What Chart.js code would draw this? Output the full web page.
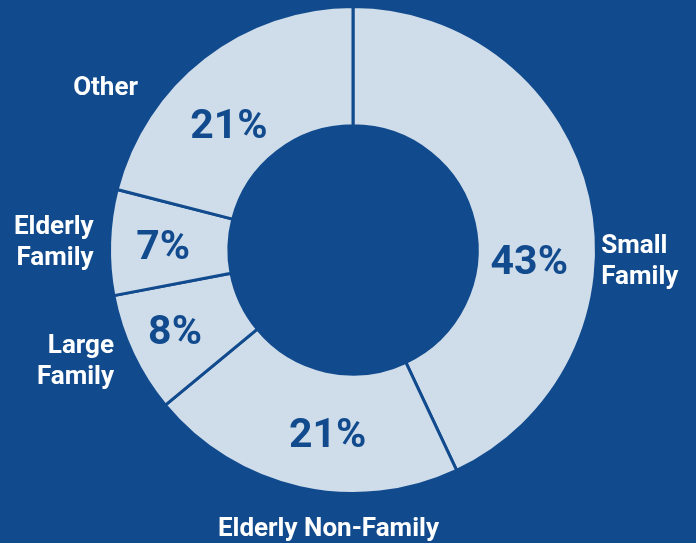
<!DOCTYPE html>
<html>
<head>
<meta charset="utf-8">
<script src="https://cdn.jsdelivr.net/npm/chart.js@4.4.1/dist/chart.umd.min.js"></script>
<style>
  html, body { margin: 0; padding: 0; background: #114B8E; }
  #wrap { width: 696px; height: 543px; position: relative; }
</style>
</head>
<body>
<div id="wrap"><canvas id="cnv"></canvas></div>
<script>
// ---- data ----
const categories = ['Small\nFamily', 'Elderly Non-Family', 'Large\nFamily', 'Elderly\nFamily', 'Other'];
const shares     = [43, 21, 8, 7, 21];

// ---- label placement (fraction along slice, ring depth / gap in px) ----
const pctAlong   = [0.607, 0.437, 0.52, 0.47, 0.405];
const pctDepth   = [0.44, 0.52, 0.60, 0.55, 0.43];
const catAlong   = [0.598, 0.40, 0.51, 0.50, 0.30];
const catGap     = [5, 36, 20, 16, 26];
const catAlign   = ['left', 'center', 'right', 'right', 'right'];

const BG    = '#114B8E';
const SLICE = '#CFDCE9';

const labelPlugin = {
  id: 'sliceLabels',
  afterDatasetsDraw(chart) {
    const ctx = chart.ctx;
    const arcs = chart.getDatasetMeta(0).data;
    ctx.save();
    arcs.forEach((arc, i) => {
      const { x, y, startAngle, endAngle, innerRadius, outerRadius } = arc.getProps(
        ['x', 'y', 'startAngle', 'endAngle', 'innerRadius', 'outerRadius'], true);

      // percentage inside the ring
      let a = startAngle + (endAngle - startAngle) * pctAlong[i];
      let r = innerRadius + (outerRadius - innerRadius) * pctDepth[i];
      ctx.fillStyle = BG;
      ctx.font = 'bold 41px Roboto';
      ctx.textAlign = 'center';
      ctx.textBaseline = 'middle';
      ctx.fillText(shares[i] + '%', x + Math.cos(a) * r, y + Math.sin(a) * r + 2);

      // category name outside
      a = startAngle + (endAngle - startAngle) * catAlong[i];
      r = outerRadius + catGap[i];
      const lx = x + Math.cos(a) * r, ly = y + Math.sin(a) * r;
      const lines = categories[i].split('\n');
      const lh = 31;
      ctx.fillStyle = '#ffffff';
      ctx.font = 'bold 26px Roboto';
      ctx.textAlign = catAlign[i];
      lines.forEach((t, k) => {
        ctx.fillText(t, lx, ly + (k - (lines.length - 1) / 2) * lh + 1);
      });
    });
    ctx.restore();
  }
};

new Chart('cnv', {
  type: 'doughnut',
  data: {
    labels: categories,
    datasets: [{
      data: shares,
      backgroundColor: SLICE,
      borderColor: BG,
      borderWidth: 3
    }]
  },
  options: {
    responsive: true,
    maintainAspectRatio: false,
    animation: false,
    cutout: '51%',
    layout: { padding: { top: 5, bottom: 48, left: 108, right: 98 } },
    plugins: {
      legend: { display: false },
      tooltip: { enabled: false }
    }
  },
  plugins: [labelPlugin]
});
</script>
</body>
</html>
